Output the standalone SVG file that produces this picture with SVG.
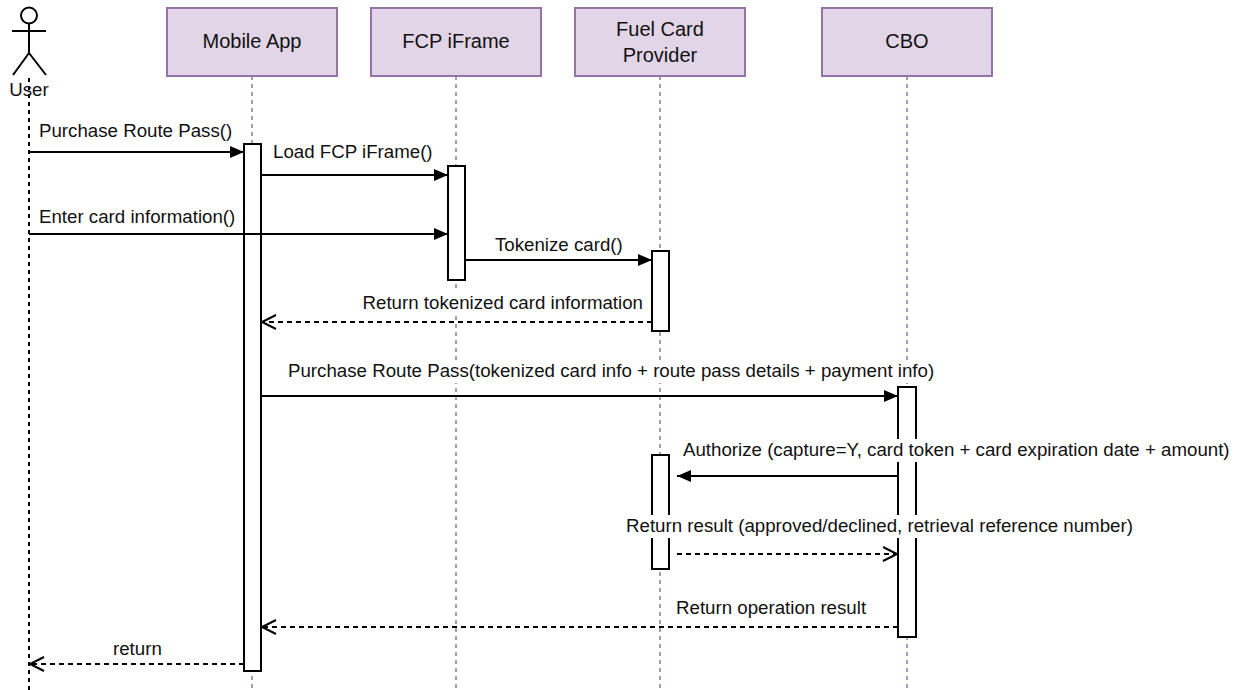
<svg xmlns="http://www.w3.org/2000/svg" width="1244" height="690" viewBox="0 0 1244 690">
<defs>
<style>
.box{fill:#e1d5e7;stroke:#9673a6;stroke-width:2}
.life{stroke:#9673a6;stroke-width:1.5;stroke-dasharray:4 4;fill:none}
.ulife{stroke:#000;stroke-width:2;stroke-dasharray:4 4;fill:none}
.act{fill:#fff;stroke:#000;stroke-width:2}
.msg{stroke:#000;stroke-width:2;fill:none}
.ret{stroke:#000;stroke-width:2;fill:none;stroke-dasharray:5 4}
.bg{fill:#fff}
.t{font-family:"Liberation Sans",Arial,sans-serif;font-size:18.7px;fill:#111}
.h{font-family:"Liberation Sans",Arial,sans-serif;font-size:20px;fill:#111;text-anchor:middle}
.fig{stroke:#000;stroke-width:2;fill:none}
</style>
<marker id="fill" markerUnits="userSpaceOnUse" markerWidth="15" markerHeight="13" refX="14" refY="6.5" orient="auto" overflow="visible">
<path d="M0,0.5 L14,6.5 L0,12.5 z" fill="#000"/>
</marker>
<marker id="open" markerUnits="userSpaceOnUse" markerWidth="16" markerHeight="16" refX="14" refY="7" orient="auto" overflow="visible">
<path d="M0,0 L14,7 L0,14" fill="none" stroke="#000" stroke-width="2"/>
</marker>
</defs>
<rect width="1244" height="690" fill="#fff"/>

<g id="user">
<line class="ulife" x1="29" y1="78" x2="29" y2="690"/>
<circle class="fig" cx="29" cy="15.5" r="8"/>
<line class="fig" x1="29" y1="23.5" x2="29" y2="53"/>
<line class="fig" x1="12" y1="31" x2="46" y2="31"/>
<line class="fig" x1="29" y1="53" x2="13" y2="75"/>
<line class="fig" x1="29" y1="53" x2="46" y2="75"/>
<text class="h" x="29" y="96" style="font-size:18.7px">User</text>
</g>

<g id="mobile-app">
<line class="life" x1="252" y1="76" x2="252" y2="690"/>
<rect class="box" x="167" y="8" width="170" height="68"/>
<text class="h" x="252" y="48">Mobile App</text>
<rect class="act" x="244" y="144" width="17" height="527"/>
</g>

<g id="fcp-iframe">
<line class="life" x1="456" y1="76" x2="456" y2="690"/>
<rect class="box" x="371" y="8" width="170" height="68"/>
<text class="h" x="456" y="48">FCP iFrame</text>
<rect class="act" x="448" y="166" width="17" height="114"/>
</g>

<g id="fuel-card-provider">
<line class="life" x1="660" y1="76" x2="660" y2="690"/>
<rect class="box" x="575" y="8" width="170" height="68"/>
<text class="h" x="660" y="36">Fuel Card</text>
<text class="h" x="660" y="62">Provider</text>
<rect class="act" x="652" y="251" width="17" height="80"/>
<rect class="act" x="652" y="455" width="17" height="114"/>
</g>

<g id="cbo">
<line class="life" x1="907" y1="76" x2="907" y2="690"/>
<rect class="box" x="822" y="8" width="170" height="68"/>
<text class="h" x="907" y="48">CBO</text>
<rect class="act" x="898" y="387" width="18" height="250"/>
</g>

<g id="connectors">
<path class="msg" d="M29,152 H244" marker-end="url(#fill)"/>
<rect class="bg" x="37" y="120" width="196" height="23"/>
<text class="t" x="39" y="137">Purchase Route Pass()</text>
<path class="msg" d="M261,175 H448" marker-end="url(#fill)"/>
<rect class="bg" x="271" y="141" width="164" height="23"/>
<text class="t" x="273" y="158">Load FCP iFrame()</text>
<path class="msg" d="M29,234 H448" marker-end="url(#fill)"/>
<rect class="bg" x="37" y="206" width="202" height="23"/>
<text class="t" x="39" y="223">Enter card information()</text>
<path class="msg" d="M465,260 H652" marker-end="url(#fill)"/>
<rect class="bg" x="493" y="234" width="132" height="23"/>
<text class="t" x="495" y="251">Tokenize card()</text>
<path class="ret" d="M652,322 H262" marker-end="url(#open)"/>
<rect class="bg" x="362" y="292" width="283" height="23"/>
<text class="t" x="643" y="309" text-anchor="end">Return tokenized card information</text>
<path class="msg" d="M261,396 H898" marker-end="url(#fill)"/>
<rect class="bg" x="286" y="360" width="652" height="23"/>
<text class="t" x="288" y="377">Purchase Route Pass(tokenized card info + route pass details + payment info)</text>
<path class="msg" d="M898,476 H677" marker-end="url(#fill)"/>
<rect class="bg" x="681" y="439" width="552" height="23"/>
<text class="t" x="683" y="456">Authorize (capture=Y, card token + card expiration date + amount)</text>
<path class="ret" d="M677,554 H897" marker-end="url(#open)"/>
<rect class="bg" x="624" y="515" width="511" height="23"/>
<text class="t" x="626" y="532">Return result (approved/declined, retrieval reference number)</text>
<path class="ret" d="M898,627 H262" marker-end="url(#open)"/>
<rect class="bg" x="674" y="597" width="194" height="23"/>
<text class="t" x="676" y="614">Return operation result</text>
<path class="ret" d="M244,664 H30" marker-end="url(#open)"/>
<rect class="bg" x="111" y="638" width="52" height="23"/>
<text class="t" x="113" y="655">return</text>
</g>
</svg>
